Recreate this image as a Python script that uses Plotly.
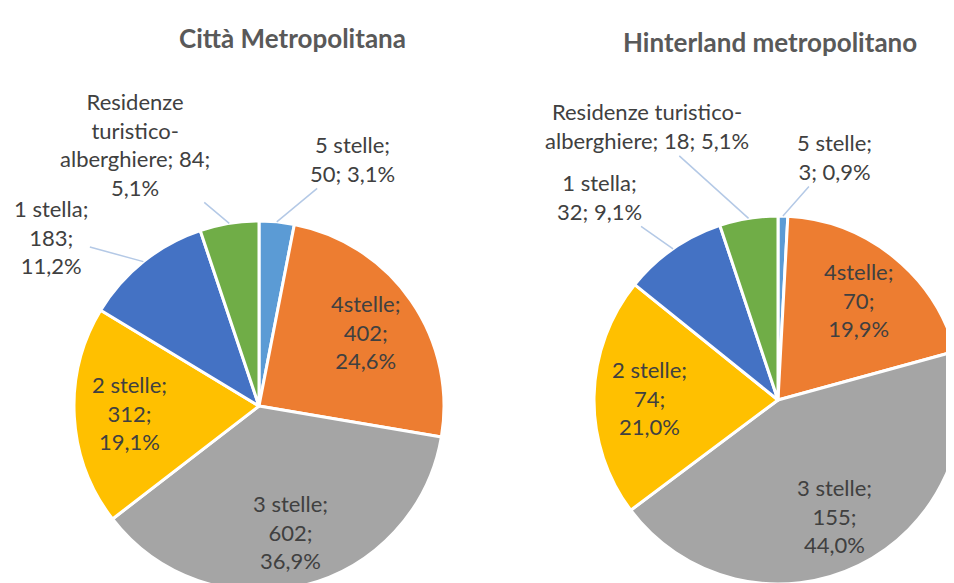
import math
import plotly.graph_objects as go

CATEGORIES = ["5 stelle", "4stelle", "3 stelle", "2 stelle", "1 stella",
              "Residenze turistico-alberghiere"]
CITTA_VALUES = [50, 402, 602, 312, 183, 84]
HINTER_VALUES = [3, 70, 155, 74, 32, 18]
TITLES = ["Città Metropolitana", "Hinterland metropolitano"]

COLORS = ["#5B9BD5", "#ED7D31", "#A5A5A5", "#FFC000", "#4472C4", "#70AD47"]
FONT = "Lato"
TEXT_COLOR = "#404040"
LEADER = "#B4C9E6"
W, H = 954, 583
FS = 22

# label layouts (line breaks as in the original)
CITTA_TPL = [
    "5 stelle;<br>{v}; {p}",
    "4stelle;<br>{v};<br>{p}",
    "3 stelle;<br>{v};<br>{p}",
    "2 stelle;<br>{v};<br>{p}",
    "1 stella;<br>{v};<br>{p}",
    "Residenze<br>turistico-<br>alberghiere; {v};<br>{p}",
]
HINTER_TPL = [
    "5 stelle;<br>{v}; {p}",
    "4stelle;<br>{v};<br>{p}",
    "3 stelle;<br>{v};<br>{p}",
    "2 stelle;<br>{v};<br>{p}",
    "1 stella;<br>{v}; {p}",
    "Residenze turistico-<br>alberghiere; {v}; {p}",
]
INSIDE = [False, True, True, True, False, False]
INSIDE_R = 0.7  # inside labels sit at 70% of the radius

# pie centre / radius in px, and label offsets (px) for the outside labels
PIES = [
    dict(values=CITTA_VALUES, tpl=CITTA_TPL, cx=251, cy=398, r=185,
         offsets={0: (76, -63), 4: (-92, -25), 5: (-94, -79)}),
    dict(values=HINTER_VALUES, tpl=HINTER_TPL, cx=770, cy=392, r=184,
         offsets={0: (52, -59), 4: (-74, -52), 5: (-102, -92)}),
]


def pie_domain(cx, cy, r):
    return dict(x=[(cx - r) / W, (cx + r) / W],
                y=[(H - cy - r) / H, (H - cy + r) / H])


def fmt_pct(frac):
    return f"{frac * 100:.1f}".replace(".", ",") + "%"


fig = go.Figure()
for p in PIES:
    vals = p["values"]
    total = sum(vals)
    fig.add_trace(go.Pie(
        labels=CATEGORIES, values=vals,
        sort=False, direction="clockwise", rotation=0,
        marker=dict(colors=COLORS, line=dict(color="white", width=3)),
        textinfo="none",
        domain=pie_domain(p["cx"], p["cy"], p["r"]),
        showlegend=False, automargin=False,
        hovertemplate="%{label}<br>%{value} (%{percent})<extra></extra>",
    ))
    # data labels: inside at the slice mid-angle, outside with leader lines
    cum = 0
    for i, v in enumerate(vals):
        mid = (cum + v / 2) / total * 2 * math.pi
        cum += v
        text = p["tpl"][i].format(v=v, p=fmt_pct(v / total))
        font = dict(family=FONT, size=FS, color=TEXT_COLOR)
        if INSIDE[i]:
            rr = p["r"] * INSIDE_R
            fig.add_annotation(
                text=text, showarrow=False, xref="paper", yref="paper",
                x=(p["cx"] + rr * math.sin(mid)) / W,
                y=1 - (p["cy"] - rr * math.cos(mid)) / H,
                xanchor="center", yanchor="middle", font=font,
            )
            continue
        ex = p["cx"] + p["r"] * math.sin(mid)
        ey = p["cy"] - p["r"] * math.cos(mid)
        ax, ay = p["offsets"][i]
        fig.add_annotation(
            text=text, x=ex / W, y=1 - ey / H, xref="paper", yref="paper",
            ax=ax, ay=ay, showarrow=True, arrowhead=0, arrowwidth=1.5,
            arrowcolor=LEADER, standoff=0, font=font,
        )

for title, x, y in [(TITLES[0], 284, 30), (TITLES[1], 762, 34)]:
    fig.add_annotation(
        text=f"<b>{title}</b>", x=x / W, y=1 - y / H, xref="paper", yref="paper",
        xanchor="center", yanchor="middle", showarrow=False,
        font=dict(family=FONT, size=26, color="#595959"),
    )

fig.update_layout(
    width=W, height=H,
    margin=dict(l=0, r=0, t=0, b=0),
    paper_bgcolor="white", plot_bgcolor="white",
    font=dict(family=FONT, color=TEXT_COLOR),
)
fig.write_html("out.html")
